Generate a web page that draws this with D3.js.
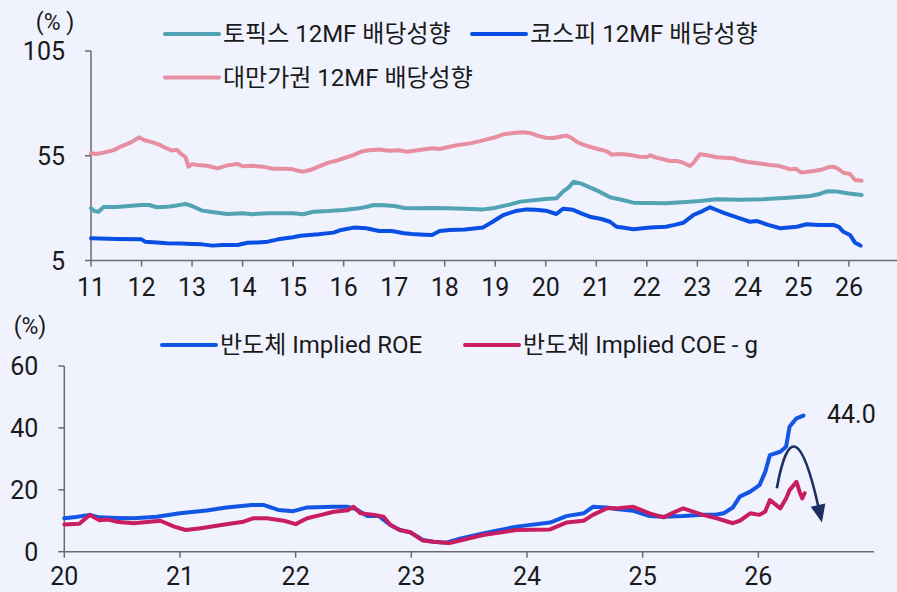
<!DOCTYPE html>
<html><head><meta charset="utf-8">
<script src="https://cdn.jsdelivr.net/npm/d3@7"></script>
<style>
html,body{margin:0;padding:0;background:#f0f2fd;}
svg{display:block;}
text{font-family:Roboto,"Noto Sans CJK KR",sans-serif;fill:#1a1a1a;}
</style></head><body>
<svg id="c" width="897" height="592"></svg>
<script>
// ---------- Data (year as decimal, e.g. 11 = 2011) ----------
const topYTicks = [5, 55, 105];
const topXTicks = [11,12,13,14,15,16,17,18,19,20,21,22,23,24,25,26];
const topixPayout = [[11.0,29.9],[11.07,28.6],[11.15,28.3],[11.25,30.5],[11.5,30.5],[11.75,31],[12.0,31.5],[12.15,31.5],[12.3,30.4],[12.5,30.6],[12.7,31.3],[12.87,32],[13.0,31],[13.2,28.8],[13.4,28.2],[13.7,27.2],[14.0,27.5],[14.2,27.1],[14.5,27.6],[14.8,27.5],[15.0,27.5],[15.2,27.1],[15.4,28.3],[15.7,28.6],[16.0,29.1],[16.3,29.9],[16.5,30.9],[16.6,31.5],[16.8,31.4],[17.0,31.0],[17.2,30.1],[17.4,29.9],[17.7,30.1],[18.07,29.9],[18.4,29.7],[18.76,29.4],[18.95,29.9],[19.1,30.7],[19.3,31.8],[19.5,33.1],[19.8,33.9],[20.0,34.3],[20.21,34.7],[20.34,37.9],[20.45,39.8],[20.55,42.6],[20.7,41.7],[20.87,39.9],[21.05,38],[21.27,35.2],[21.5,34],[21.73,32.6],[22.0,32.4],[22.38,32.3],[22.7,32.8],[23.05,33.4],[23.38,34.2],[23.8,34],[24.3,34.2],[24.44,34.5],[24.8,35],[25.23,35.8],[25.4,36.6],[25.56,38],[25.76,37.9],[26.0,37],[26.25,36.3]];
const kospiPayout = [[11.0,15.6],[11.5,15.3],[12.0,15.1],[12.07,14],[12.3,13.6],[12.5,13.2],[12.8,13.1],[13.0,12.9],[13.2,12.7],[13.4,12.1],[13.6,12.4],[13.9,12.4],[14.1,13.5],[14.3,13.6],[14.5,14],[14.7,15.1],[15.0,16.1],[15.15,16.8],[15.5,17.5],[15.8,18.3],[15.95,19.6],[16.2,20.7],[16.45,20.4],[16.7,19.1],[16.95,19.1],[17.2,18],[17.35,17.6],[17.6,17.3],[17.75,17.2],[17.9,19.1],[18.1,19.6],[18.4,19.8],[18.76,20.8],[18.95,23.5],[19.16,26.7],[19.4,28.6],[19.62,29.4],[19.8,29.2],[20.0,28.8],[20.21,27.2],[20.34,29.7],[20.54,29.2],[20.7,27.5],[20.87,25.9],[21.1,24.8],[21.27,23.5],[21.4,21.1],[21.55,20.6],[21.73,19.9],[22.07,20.8],[22.38,21.1],[22.55,22],[22.72,23],[22.92,26.7],[23.1,28.6],[23.25,30.4],[23.38,29.1],[23.55,27.5],[23.71,26.2],[23.9,24.6],[24.04,23.5],[24.17,23.9],[24.4,22],[24.64,20.4],[24.8,20.8],[24.97,21.1],[25.16,22.3],[25.4,22],[25.69,22],[25.8,21],[25.89,18.7],[26.02,17.2],[26.12,13.5],[26.18,12.8],[26.23,12.1]];
const taiwanPayout = [[11.0,56.2],[11.1,55.8],[11.25,56.5],[11.45,57.7],[11.6,59.5],[11.8,61.5],[11.95,63.8],[12.05,62.5],[12.2,61.5],[12.35,60.3],[12.5,58.5],[12.6,57.5],[12.7,57.8],[12.8,55.5],[12.87,54.3],[12.93,49.8],[13.0,51],[13.1,50.6],[13.3,50.2],[13.5,49],[13.7,50.4],[13.9,51.1],[14.0,50],[14.2,50.2],[14.4,49.8],[14.6,48.8],[14.8,48.8],[15.0,48.5],[15.1,47.8],[15.2,47.4],[15.35,48.3],[15.5,49.8],[15.7,51.7],[15.85,52.6],[16.0,53.8],[16.2,55.4],[16.35,57],[16.5,57.6],[16.7,58],[16.9,57.4],[17.1,57.6],[17.25,56.9],[17.4,57.4],[17.6,58.1],[17.75,58.6],[17.9,58.2],[18.1,59.3],[18.3,60.3],[18.5,60.9],[18.7,62],[18.83,62.8],[19.0,63.8],[19.16,65.2],[19.35,65.9],[19.55,66.2],[19.7,65.8],[19.85,64.5],[20.0,63.6],[20.15,63.5],[20.3,64.2],[20.41,64.6],[20.5,63.6],[20.61,61.7],[20.75,60.2],[20.87,59.3],[21.05,58.1],[21.2,57.2],[21.3,55.6],[21.5,55.8],[21.67,55.4],[21.85,54.5],[22.0,54.4],[22.07,55.2],[22.2,54],[22.35,53.2],[22.46,52.5],[22.6,52.5],[22.72,51.7],[22.85,50.1],[22.92,51.5],[22.99,53.8],[23.05,55.7],[23.2,55.2],[23.38,54.3],[23.55,54],[23.71,53.8],[23.85,52.7],[24.0,52],[24.2,51.4],[24.44,50.6],[24.6,50.2],[24.75,49.2],[24.83,48.5],[24.95,48.8],[25.05,47],[25.15,47.2],[25.3,47.7],[25.45,48.3],[25.6,49.6],[25.7,49.8],[25.78,48.8],[25.89,46.9],[26.02,46.3],[26.12,43.4],[26.25,43.1]];

const botYTicks = [0, 20, 40, 60];
const botXTicks = [20,21,22,23,24,25,26];
const semiROE = [[20.0,10.8],[20.1,11.2],[20.22,11.9],[20.3,11.1],[20.45,10.9],[20.6,10.8],[20.8,11.3],[21.0,12.4],[21.23,13.3],[21.4,14.3],[21.62,15.1],[21.72,15.1],[21.85,13.5],[21.98,13.1],[22.1,14.3],[22.33,14.5],[22.45,14.5],[22.52,13.8],[22.62,11.5],[22.72,11.5],[22.82,8.6],[22.9,7],[22.99,6.3],[23.1,3.8],[23.19,3.2],[23.3,2.9],[23.4,4],[23.62,5.9],[23.91,8.1],[24.2,9.4],[24.34,11.5],[24.49,12.4],[24.57,14.5],[24.69,14.3],[24.77,13.8],[24.92,13.2],[25.06,11.5],[25.18,11.3],[25.35,11.5],[25.52,11.9],[25.64,12],[25.7,12.4],[25.78,14.3],[25.84,17.8],[25.93,19.4],[26.01,21.5],[26.06,25.8],[26.1,31.2],[26.19,32.3],[26.24,33.9],[26.27,40.4],[26.33,43.1],[26.39,44.0]];
const semiCOEg = [[20.0,8.8],[20.13,9],[20.22,11.9],[20.3,10.2],[20.38,10.4],[20.45,9.7],[20.6,9.2],[20.83,10],[20.95,8.1],[21.05,7],[21.18,7.6],[21.4,8.9],[21.55,9.7],[21.63,10.8],[21.75,10.8],[21.9,10],[22.0,8.9],[22.1,10.8],[22.22,11.9],[22.33,12.9],[22.45,13.4],[22.5,14.5],[22.56,12.4],[22.68,11.9],[22.76,11.3],[22.82,8.6],[22.9,7],[22.99,6.3],[23.1,3.6],[23.19,3.2],[23.33,2.8],[23.62,5.4],[23.91,7],[24.2,7.2],[24.34,9.4],[24.49,10],[24.57,11.9],[24.69,14],[24.77,14],[24.92,14.5],[25.06,12.4],[25.18,11.1],[25.27,12.7],[25.35,14],[25.52,11.9],[25.64,10.8],[25.78,9.2],[25.84,10],[25.93,12.4],[26.01,11.9],[26.06,13],[26.1,16.7],[26.19,14],[26.24,17.2],[26.27,19.9],[26.33,22.6],[26.36,19],[26.38,17.2],[26.4,18.9]];
const lastROELabel = "44.0";
const arrowPts = [[26.16,20.5],[26.33,32.6],[26.55,9.4]]; // start, peak, tip

const topSeries = [
  {name:"토픽스 12MF 배당성향", data:topixPayout, color:"#52a3b4"},
  {name:"코스피 12MF 배당성향", data:kospiPayout, color:"#0a4fe3"},
  {name:"대만가권 12MF 배당성향", data:taiwanPayout, color:"#e88ea1"}
];
const botSeries = [
  {name:"반도체 Implied ROE", data:semiROE, color:"#1456e4"},
  {name:"반도체 Implied COE - g", data:semiCOEg, color:"#c81d61"}
];

// ---------- Drawing ----------
const svg = d3.select("#c");
const axisColor = "#6b6b70";
const FS = 25;

// Top chart scales
const xT = d3.scaleLinear().domain([11,27]).range([91, 899.5]);
const yT = d3.scaleLinear().domain([5,105]).range([260.5, 51]);
// Bottom chart scales
const xB = d3.scaleLinear().domain([20,27]).range([64.3, 874]);
const yB = d3.scaleLinear().domain([0,60]).range([551.7, 366]);

function drawAxes(x, y, xticks, yticks, xEnd, unitLabel, unitPos, xLabelY){
  const g = svg.append("g");
  g.append("line").attr("x1",x.range()[0]).attr("x2",x.range()[0])
    .attr("y1",y(yticks[0])).attr("y2",y(yticks[yticks.length-1]))
    .attr("stroke",axisColor).attr("stroke-width",1.5);
  g.append("line").attr("x1",x.range()[0]).attr("x2",xEnd)
    .attr("y1",y(yticks[0])).attr("y2",y(yticks[0]))
    .attr("stroke",axisColor).attr("stroke-width",1.5);
  yticks.forEach(t=>{
    g.append("line").attr("x1",x.range()[0]-6).attr("x2",x.range()[0])
      .attr("y1",y(t)).attr("y2",y(t)).attr("stroke",axisColor).attr("stroke-width",1.5);
    g.append("text").attr("x",x.range()[0]-26).attr("y",y(t)).attr("dy","0.36em")
      .attr("text-anchor","end").attr("font-size",FS).text(t);
  });
  xticks.forEach(t=>{
    g.append("line").attr("x1",x(t)).attr("x2",x(t))
      .attr("y1",y(yticks[0])).attr("y2",y(yticks[0])+6).attr("stroke",axisColor).attr("stroke-width",1.5);
    g.append("text").attr("x",x(t)).attr("y",xLabelY)
      .attr("text-anchor","middle").attr("font-size",FS).text(t);
  });
  g.append("text").attr("x",unitPos[0]).attr("y",unitPos[1])
    .attr("text-anchor","middle").attr("font-size",23).text(unitLabel);
}

drawAxes(xT, yT, topXTicks, topYTicks, 897, "(% )", [55, 30], 296);
drawAxes(xB, yB, botXTicks, botYTicks, 874, "(%)", [30, 334], 585);

const lineT = d3.line().x(d=>xT(d[0])).y(d=>yT(d[1])).curve(d3.curveLinear);
const lineB = d3.line().x(d=>xB(d[0])).y(d=>yB(d[1])).curve(d3.curveLinear);

topSeries.forEach(s=>{
  svg.append("path").attr("d",lineT(s.data)).attr("fill","none")
    .attr("stroke",s.color).attr("stroke-width",4).attr("stroke-linejoin","round").attr("stroke-linecap","round");
});
botSeries.forEach(s=>{
  svg.append("path").attr("d",lineB(s.data)).attr("fill","none")
    .attr("stroke",s.color).attr("stroke-width",4).attr("stroke-linejoin","round").attr("stroke-linecap","round");
});

// Legends
function legendItem(x, y, s){
  svg.append("line").attr("x1",x).attr("x2",x+54).attr("y1",y).attr("y2",y)
    .attr("stroke",s.color).attr("stroke-width",4).attr("stroke-linecap","round");
  svg.append("text").attr("x",x+58).attr("y",y).attr("dy","0.35em")
    .attr("font-size",24).text(s.name);
}
legendItem(165, 34, topSeries[0]);
legendItem(472, 34, topSeries[1]);
legendItem(165, 77.5, topSeries[2]);
legendItem(162, 345, botSeries[0]);
legendItem(465, 345, botSeries[1]);

// Last value label
svg.append("text").attr("x",827).attr("y",423).attr("font-size",FS).text(lastROELabel);

// Arrow annotation
const [p0, pk, p2] = arrowPts.map(p=>[xB(p[0]), yB(p[1])]);
const cx = 2*pk[0] - (p0[0]+p2[0])/2, cy = 2*pk[1] - (p0[1]+p2[1])/2;
const tipBack = 18;
const dx = p2[0]-cx, dy = p2[1]-cy, L = Math.hypot(dx,dy);
const ux = dx/L, uy = dy/L;
const base = [p2[0]-ux*tipBack, p2[1]-uy*tipBack];
const qp = d3.path();
qp.moveTo(p0[0],p0[1]);
qp.quadraticCurveTo(cx, cy, base[0]+ux*2, base[1]+uy*2);
svg.append("path").attr("d",qp.toString()).attr("fill","none")
  .attr("stroke","#1b2f60").attr("stroke-width",2.6);
const w = 7.5;
svg.append("path").attr("d",
  `M${p2[0]},${p2[1]}L${base[0]-uy*w},${base[1]+ux*w}L${base[0]+uy*w},${base[1]-ux*w}Z`)
  .attr("fill","#1b2f60");
</script>
</body></html>
